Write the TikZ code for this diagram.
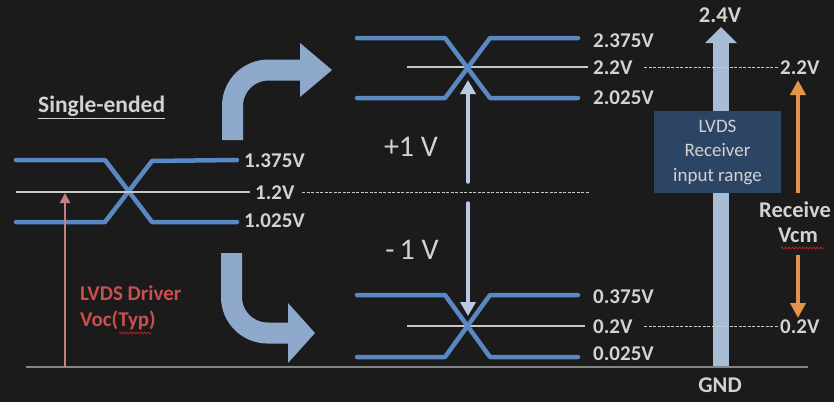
\documentclass[tikz,border=0pt]{standalone}
\usepackage{fontspec}
\setmainfont{Carlito}
\usetikzlibrary{arrows.meta,decorations.pathmorphing}
\definecolor{bg}{HTML}{1B1B1B}
\definecolor{txt}{HTML}{D2D2D2}
\definecolor{wave}{HTML}{5A88C2}
\definecolor{mid}{HTML}{C8C8C8}
\definecolor{bigarrow}{HTML}{8EA9CB}
\definecolor{rangearrow}{HTML}{A9BCD6}
\definecolor{vline}{HTML}{B9CBE3}
\definecolor{boxfill}{HTML}{2D4564}
\definecolor{orng}{HTML}{E2944A}
\definecolor{pinkar}{HTML}{C47F7F}
\definecolor{redtxt}{HTML}{C8504E}
\definecolor{gndc}{HTML}{858585}
\definecolor{spell}{HTML}{B02020}
\begin{document}
\begin{tikzpicture}[x=1pt,y=-1pt,
  wavel/.style={draw=wave,line width=4.5pt,line cap=round,line join=round},
  midl/.style={draw=mid,line width=1.8pt},
  dashl/.style={draw=mid,line width=0.9pt,dash pattern=on 3pt off 1.5pt},
  vlab/.style={text=txt,font=\bfseries\fontsize{21}{23}\selectfont,anchor=west,inner sep=0pt},
  bigtxt/.style={text=txt,font=\fontsize{30}{32}\selectfont,inner sep=0pt},
  curvearr/.style={draw=bigarrow,line width=21pt,rounded corners=36pt},
  vconn/.style={draw=vline,line width=3.5pt,-{Triangle[length=14pt,width=15pt]}},
  oconn/.style={draw=orng,line width=4pt,-{Triangle[length=15pt,width=15pt]}},
  spellmark/.style={draw=spell,line width=0.8pt,decorate,decoration={snake,amplitude=1pt,segment length=3.5pt}}
]
\fill[bg] (0,0) rectangle (834,402);
\useasboundingbox (0,0) rectangle (834,402);

% ---------- big receiver range arrow ----------
\coordinate (gndpt) at (721,367);
\coordinate (toppt) at (721,27);
\draw[draw=rangearrow,line width=16pt,-{Triangle[length=16pt,width=31pt]}] (gndpt) -- (toppt);

% ground line
\coordinate (g1) at (26,367);
\coordinate (g2) at (808,367);
\draw[gndc,line width=2.5pt] (g1) -- (g2);

% ---------- left single-ended waveform ----------
\draw[wavel] (16,160) -- (105,160) -- (152,222) -- (237,222);
\draw[wavel] (16,222) -- (105,222) -- (152,161) -- (237,160);
\draw[midl] (16,192) -- (250,192);
\node[vlab] (l1375) at (244,161) {1.375V};
\node[vlab] (l12) at (255,193) {1.2V};
\node[vlab] (l1025) at (244,221) {1.025V};
\draw[dashl] (302,192) -- (590,192);

\node[vlab,anchor=west,font=\bfseries\fontsize{23.5}{25}\selectfont] (single) at (38,106) {Single-ended};
\draw[txt,line width=1.5pt] ([yshift=-2pt]single.south west) -- ([yshift=-2pt]single.south east);

% pink Voc arrow
\coordinate (pk1) at (65,367);
\coordinate (pk2) at (65,193);
\draw[pinkar,line width=2.5pt,-{Triangle[length=10pt,width=10pt]}] (pk1) -- (pk2);
\node[vlab,text=redtxt,anchor=west] (drv) at (80,293) {LVDS Driver};
\node[vlab,text=redtxt,anchor=west] (voc) at (80,320) {Voc(Typ)};
\draw[spellmark] (119,333) -- (152,333);

% ---------- curved arrows ----------
\draw[curvearr] (232.5,140) -- (232.5,70) -- (301,70);
\fill[bigarrow] (300,43) -- (332,70) -- (300,97) -- cycle;
\draw[curvearr] (231.5,253) -- (231.5,333) -- (289,333);
\fill[bigarrow] (288,303) -- (315,333) -- (288,363) -- cycle;

% ---------- upper differential waveform ----------
\draw[midl] (407,67) -- (588,67);
\draw[wavel] (357,38) -- (445,38) -- (490,98) -- (578,98);
\draw[wavel] (357,98) -- (445,98) -- (490,38) -- (578,38);
\node[vlab] (u2375) at (593,41) {2.375V};
\node[vlab] (u22) at (593,68) {2.2V};
\node[vlab] (u2025) at (593,98) {2.025V};

% ---------- lower differential waveform ----------
\draw[midl] (407,326) -- (585,326);
\draw[wavel] (357,295) -- (445,295) -- (490,357) -- (578,357);
\draw[wavel] (357,357) -- (445,357) -- (490,295) -- (578,295);
\node[vlab] (d0375) at (593,297) {0.375V};
\node[vlab] (d02) at (593,327) {0.2V};
\node[vlab] (d0025) at (593,354) {0.025V};

% vertical +1V / -1V arrows
\coordinate (up1) at (468,182);
\coordinate (up2) at (468,80);
\coordinate (dn1) at (468,203);
\coordinate (dn2) at (468,316);
\draw[vconn] (up1) -- (up2);
\draw[vconn] (dn1) -- (dn2);
\draw[vline,line width=3.5pt,line cap=round] (up1) -- ++(0,-1);
\draw[vline,line width=3.5pt,line cap=round] (dn1) -- ++(0,1);
\node[bigtxt] (plus) at (411,147) {+1 V};
\node[bigtxt] (minus) at (412,250) {-\,1 V};

% ---------- right side ----------
\draw[dashl] (644,67) -- (778,67);
\node[vlab] (r22) at (780,68) {2.2V};
\draw[dashl] (644,326) -- (778,326);
\node[vlab] (r02) at (780,327) {0.2V};

\node[fill=boxfill,minimum width=127pt,minimum height=82pt,inner sep=0pt,
      text=txt,align=center,font=\fontsize{19}{24.5}\selectfont] (box) at (717.5,152)
      {LVDS\\Receiver\\input range};

\node[vlab,anchor=center,font=\bfseries\fontsize{22.5}{24}\selectfont] (v24) at (720,15) {2.4V};
\node[vlab,anchor=center,font=\bfseries\fontsize{22.5}{24}\selectfont] (gnd) at (720,385) {GND};

\coordinate (o1) at (798,193);
\coordinate (o2) at (798,80);
\coordinate (o3) at (798,255);
\coordinate (o4) at (798,318);
\draw[oconn] (o1) -- (o2);
\draw[oconn] (o3) -- (o4);
\node[vlab,anchor=west,font=\bfseries\fontsize{22.5}{24}\selectfont] (recv) at (759,210) {Receive};
\node[vlab,anchor=center,font=\bfseries\fontsize{22.5}{24}\selectfont] (vcm) at (798,235) {Vcm};
\draw[spellmark] (781,248) -- (825,248);
\end{tikzpicture}
\end{document}
